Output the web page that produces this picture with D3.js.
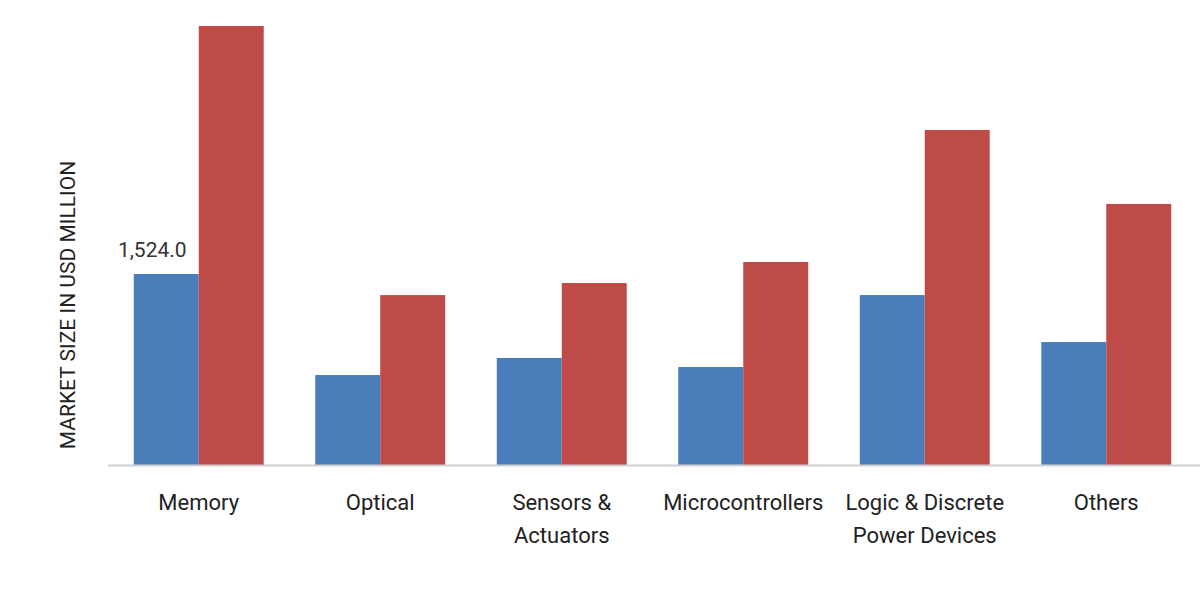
<!DOCTYPE html>
<html><head><meta charset="utf-8">
<script src="https://cdn.jsdelivr.net/npm/d3@7"></script>
<style>body{margin:0;background:#fff}</style>
</head><body><div id="chart"></div>
<script>
// ── Datos ─────────────────────────────────────────
const categories = [["Memory"], ["Optical"], ["Sensors &", "Actuators"], ["Microcontrollers"], ["Logic & Discrete", "Power Devices"], ["Others"]];
const series = ["2022", "2032"];
const values2022 = [1524.0, 718, 854, 782, 1356, 981];
const values2032 = [3503, 1356, 1452, 1620, 2673, 2083];
const colors = ["#4a7ebb", "#be4b48"];

const width = 1200, height = 600;
const svg = d3.select("#chart").append("svg")
  .attr("width", width).attr("height", height)
  .style("font-family", "Roboto, sans-serif");

const x0 = d3.scaleBand().domain(d3.range(categories.length))
  .range([108, 1197]).paddingInner(0.284).paddingOuter(0.142);
const x1 = d3.scaleBand().domain(series).range([0, x0.bandwidth()]);
const y = d3.scaleLinear().domain([0, 1524]).range([465, 274]);

// ── Barras ────────────────────────────────────────
const g = svg.append("g").selectAll("g").data(categories).join("g")
  .attr("transform", (d, i) => `translate(${x0(i)},0)`);
g.selectAll("rect")
  .data((d, i) => [values2022[i], values2032[i]])
  .join("rect")
  .attr("x", (d, j) => x1(series[j]))
  .attr("width", x1.bandwidth())
  .attr("y", d => y(d))
  .attr("height", d => y(0) - y(d))
  .attr("fill", (d, j) => colors[j]);

// ── Eje X ─────────────────────────────────────────
svg.append("line").attr("x1", 108).attr("x2", 1200)
  .attr("y1", 465.5).attr("y2", 465.5)
  .attr("stroke", "#d0d0d0").attr("stroke-width", 2);

svg.append("g").selectAll("text").data(categories).join("text")
  .attr("x", (d, i) => x0(i) + x0.bandwidth() / 2)
  .attr("y", 510)
  .attr("text-anchor", "middle")
  .attr("font-size", 22).attr("fill", "#222")
  .selectAll("tspan").data(d => d).join("tspan")
  .attr("x", function () { return this.parentNode.getAttribute("x"); })
  .attr("dy", (d, k) => k ? 33 : 0)
  .text(d => d);

// ── Etiqueta de valor ─────────────────────────────
svg.append("text")
  .attr("x", x0(0) + x1("2022") + x1.bandwidth() / 2 - 14)
  .attr("y", y(values2022[0]) - 17)
  .attr("text-anchor", "middle").attr("font-size", 21).attr("fill", "#333")
  .text(d3.format(",.1f")(values2022[0]));

// ── Título eje Y ──────────────────────────────────
svg.append("text")
  .attr("transform", "translate(75,305) rotate(-90)")
  .attr("text-anchor", "middle").attr("font-size", 21).attr("fill", "#222")
  .text("MARKET SIZE IN USD MILLION");
</script></body></html>
